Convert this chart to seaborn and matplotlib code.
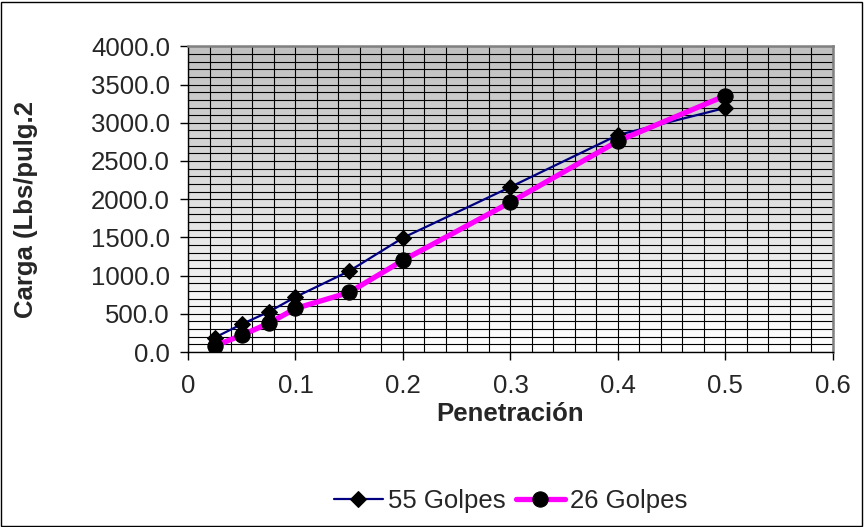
import matplotlib
matplotlib.use('Agg')
import matplotlib.pyplot as plt
from matplotlib.colors import LinearSegmentedColormap
from matplotlib.patches import Rectangle
from matplotlib.ticker import MultipleLocator, FuncFormatter
import numpy as np
import seaborn as sns

# datos
penetracion = [0.025, 0.05, 0.075, 0.1, 0.15, 0.2, 0.3, 0.4, 0.5]
carga_55 = [190, 365, 525, 720, 1060, 1495, 2160, 2840, 3195]
carga_26 = [80, 220, 375, 570, 780, 1200, 1960, 2760, 3355]
serie_55 = '55 Golpes'
serie_26 = '26 Golpes'

sns.set_style('white')
plt.rcParams['font.family'] = ['Liberation Sans', 'DejaVu Sans']
fs = 18.5

fig = plt.figure(figsize=(8.64, 5.27), dpi=100)
ax = fig.add_axes([0.2176, 0.332, 0.7464, 0.580])

# fondo degradado gris -> blanco
cmap = LinearSegmentedColormap.from_list('fondo', ['#ffffff', '#c0c0c0'])
ax.imshow(np.linspace(1, 0, 256)[:, None], cmap=cmap, aspect='auto',
          extent=[0, 1, 0, 1], transform=ax.transAxes, zorder=0)

sns.lineplot(x=penetracion, y=carga_55, color='#000080', lw=1.6, marker='D',
             markersize=8.5, markerfacecolor='black', markeredgecolor='black',
             label=serie_55, ax=ax, zorder=3)
sns.lineplot(x=penetracion, y=carga_26, color='#ff00ff', lw=3.8, marker='o',
             markersize=11, markerfacecolor='black', markeredgecolor='black',
             label=serie_26, ax=ax, zorder=4)

ax.set_xlim(0, 0.6)
ax.set_ylim(0, 4000)
ax.xaxis.set_major_locator(MultipleLocator(0.1))
ax.xaxis.set_minor_locator(MultipleLocator(0.02))
ax.yaxis.set_major_locator(MultipleLocator(500))
ax.yaxis.set_minor_locator(MultipleLocator(100))
ax.xaxis.set_major_formatter(FuncFormatter(lambda v, p: '0' if abs(v) < 1e-9 else f'{v:.1f}'))
ax.yaxis.set_major_formatter(FuncFormatter(lambda v, p: f'{v:.1f}'))

ax.set_axisbelow(True)
ax.grid(which='both', color='black', lw=0.8)
ax.tick_params(which='major', direction='out', length=6, width=1, color='black',
               labelsize=fs, bottom=True, left=True)
ax.tick_params(axis='x', pad=10)
ax.tick_params(axis='y', pad=7)
ax.tick_params(which='minor', length=0)

for s in ['left', 'bottom']:
    ax.spines[s].set_color('black')
    ax.spines[s].set_linewidth(1)
for s in ['top', 'right']:
    ax.spines[s].set_color('#808080')
    ax.spines[s].set_linewidth(1.8)

ax.set_xlabel('Penetración', fontsize=fs, fontweight='bold')
ax.set_ylabel('Carga (Lbs/pulg.2', fontsize=fs, fontweight='bold')
ax.xaxis.set_label_coords(0.5, -0.165)
ax.yaxis.set_label_coords(-0.232, 0.465)

ax.legend(loc='center', bbox_to_anchor=(0.5, -0.486), ncol=2, frameon=False,
          fontsize=fs, handlelength=1.9, handletextpad=0.2, columnspacing=0.4)

fig.patches.append(Rectangle((0.001, 0.002), 0.997, 0.995, transform=fig.transFigure,
                             fill=False, ec='black', lw=1))

fig.savefig('out.png', dpi=100)
